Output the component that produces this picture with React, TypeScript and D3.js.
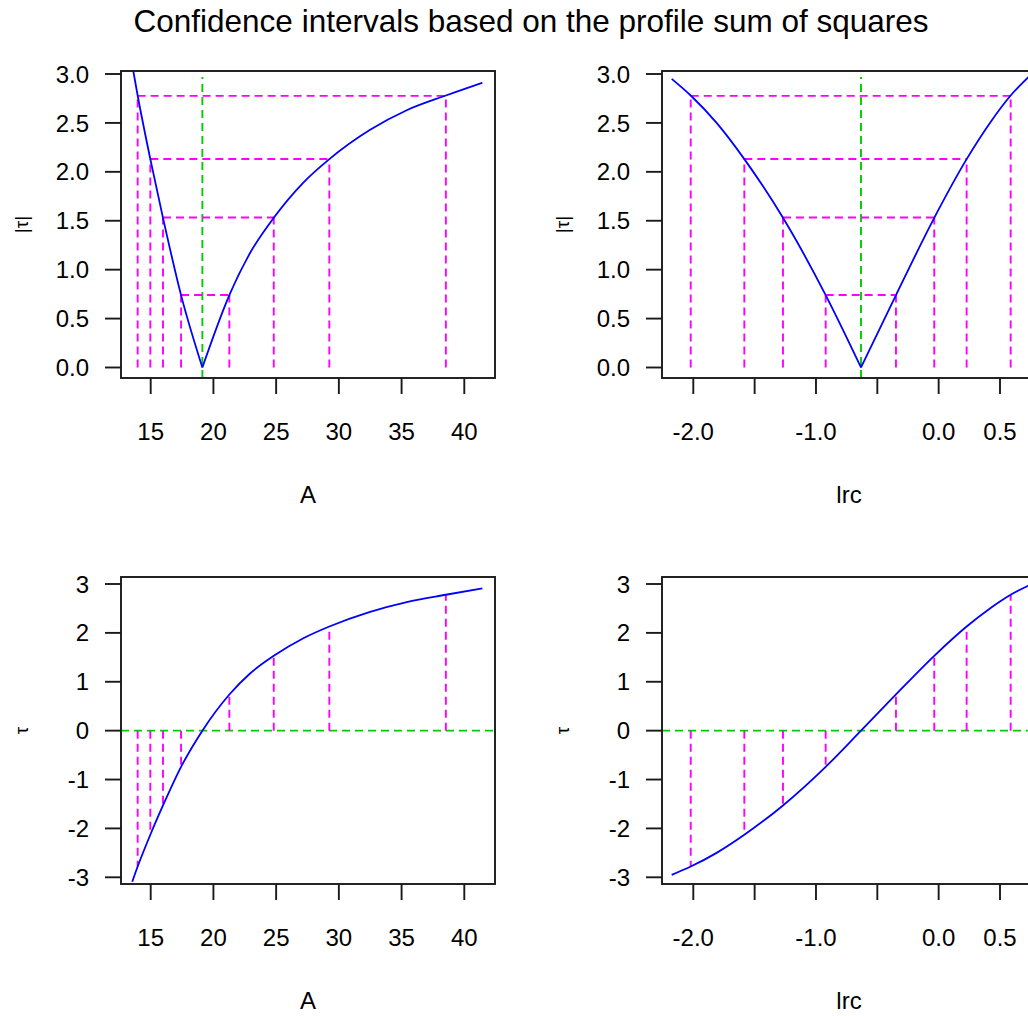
import React from 'react';
import * as d3 from 'd3';

// ---- data ----
const tauLevels = [0.7407, 1.5332, 2.1318, 2.7764];

const aValues = [13.53, 13.96, 14.97, 15.98, 17.42, 19.12, 21.27, 22.92, 24.81, 27.17, 29.24, 32.49, 35.41, 38.53, 41.44];
const aTau = [-3.09, -2.78, -2.13, -1.53, -0.74, 0, 0.74, 1.17, 1.53, 1.89, 2.13, 2.43, 2.63, 2.78, 2.91];
const aEstimate = 19.12;
const aLower = [17.42, 15.98, 14.97, 13.96];
const aUpper = [21.27, 24.81, 29.24, 38.53];

const lrcValues = [-2.176, -2.021, -1.81, -1.584, -1.269, -0.921, -0.633, -0.348, -0.036, 0.228, 0.418, 0.587, 0.725, 0.79];
const lrcTau = [-2.95, -2.78, -2.5, -2.13, -1.53, -0.74, 0, 0.74, 1.53, 2.13, 2.5, 2.78, 2.96, 3.04];
const lrcEstimate = -0.633;
const lrcLower = [-0.921, -1.269, -1.584, -2.021];
const lrcUpper = [-0.348, -0.036, 0.228, 0.587];

const aTicks = [15, 20, 25, 30, 35, 40];
const aTickLabels = ['15', '20', '25', '30', '35', '40'];
const lrcTicks = [-2.0, -1.5, -1.0, -0.5, 0.0, 0.5];
const lrcTickLabels = ['-2.0', '', '-1.0', '', '0.0', '0.5'];
const absTicks = [0, 0.5, 1, 1.5, 2, 2.5, 3];
const absTickLabels = ['0.0', '0.5', '1.0', '1.5', '2.0', '2.5', '3.0'];
const tauTicks = [-3, -2, -1, 0, 1, 2, 3];
const tauTickLabels = ['-3', '-2', '-1', '0', '1', '2', '3'];
const greenTop = 2.97;

const title = 'Confidence intervals based on the profile sum of squares';

// ---- layout ----
const W = 1028;
const H = 1016;
const FONT = "'Liberation Sans', Arial, Helvetica, sans-serif";
const BLUE = '#0000FF';
const MAGENTA = '#FF00FF';
const GREEN = '#00CD00';
const INK = '#1a1a1a';
const DASH = '8,5';
const REF_W = 1.9;

const colLeft = { x0: 121, x1: 495 };
const colRight = { x0: 662, x1: 1036 };
const rowTop = { y0: 71, y1: 378 };
const rowBottom = { y0: 577, y1: 884 };

const xA = d3.scaleLinear().domain([15, 40]).range([150.7, 464.3]);
const xLrc = d3.scaleLinear().domain([-2, 0.5]).range([693.3, 1000]);
const yAbs = d3.scaleLinear().domain([0, 3]).range([367.5, 74]);
const yTau = d3.scaleLinear().domain([-3, 3]).range([877.3, 584]);

type Panel = {
  id: string;
  x: d3.ScaleLinear<number, number>;
  y: d3.ScaleLinear<number, number>;
  col: { x0: number; x1: number };
  row: { y0: number; y1: number };
  xs: number[];
  taus: number[];
  est: number;
  lower: number[];
  upper: number[];
  abs: boolean;
  xTicks: number[];
  xLabels: string[];
  yTicks: number[];
  yLabels: string[];
  xTitle: string;
  yTitle: string;
};

const panels: Panel[] = [
  { id: 'p1', x: xA, y: yAbs, col: colLeft, row: rowTop, xs: aValues, taus: aTau, est: aEstimate, lower: aLower, upper: aUpper, abs: true, xTicks: aTicks, xLabels: aTickLabels, yTicks: absTicks, yLabels: absTickLabels, xTitle: 'A', yTitle: '|τ|' },
  { id: 'p2', x: xLrc, y: yAbs, col: colRight, row: rowTop, xs: lrcValues, taus: lrcTau, est: lrcEstimate, lower: lrcLower, upper: lrcUpper, abs: true, xTicks: lrcTicks, xLabels: lrcTickLabels, yTicks: absTicks, yLabels: absTickLabels, xTitle: 'lrc', yTitle: '|τ|' },
  { id: 'p3', x: xA, y: yTau, col: colLeft, row: rowBottom, xs: aValues, taus: aTau, est: aEstimate, lower: aLower, upper: aUpper, abs: false, xTicks: aTicks, xLabels: aTickLabels, yTicks: tauTicks, yLabels: tauTickLabels, xTitle: 'A', yTitle: 'τ' },
  { id: 'p4', x: xLrc, y: yTau, col: colRight, row: rowBottom, xs: lrcValues, taus: lrcTau, est: lrcEstimate, lower: lrcLower, upper: lrcUpper, abs: false, xTicks: lrcTicks, xLabels: lrcTickLabels, yTicks: tauTicks, yLabels: tauTickLabels, xTitle: 'lrc', yTitle: 'τ' },
];

function PanelView({ p }: { p: Panel }) {
  const { x, y, col, row } = p;
  const pts = p.xs.map((v, i) => [v, p.taus[i]] as [number, number]);
  const line = d3
    .line<[number, number]>()
    .x((d) => x(d[0]))
    .y((d) => y(d[1]))
    .curve(d3.curveMonotoneX);
  let paths: string[] = [];
  if (p.abs) {
    const left = pts.filter((d) => d[1] <= 0).map((d) => [d[0], -d[1]] as [number, number]);
    const right = pts.filter((d) => d[1] >= 0);
    paths = [line(left) || '', line(right) || ''];
  } else {
    paths = [line(pts) || ''];
  }
  const cx = (col.x0 + col.x1) / 2;
  const cy = (row.y0 + row.y1) / 2;
  return (
    <g>
      <defs>
        <clipPath id={`clip-${p.id}`}>
          <rect x={col.x0} y={row.y0} width={col.x1 - col.x0} height={row.y1 - row.y0} />
        </clipPath>
      </defs>
      <g clipPath={`url(#clip-${p.id})`}>
        {p.abs ? (
          <>
            <line x1={x(p.est)} x2={x(p.est)} y1={row.y1} y2={y(greenTop)} stroke={GREEN} strokeWidth={REF_W} strokeDasharray={DASH} />
            {tauLevels.map((lev, i) => (
              <g key={i}>
                <line x1={x(p.lower[i])} x2={x(p.upper[i])} y1={y(lev)} y2={y(lev)} stroke={MAGENTA} strokeWidth={REF_W} strokeDasharray={DASH} />
                <line x1={x(p.lower[i])} x2={x(p.lower[i])} y1={y(0)} y2={y(lev)} stroke={MAGENTA} strokeWidth={REF_W} strokeDasharray={DASH} />
                <line x1={x(p.upper[i])} x2={x(p.upper[i])} y1={y(0)} y2={y(lev)} stroke={MAGENTA} strokeWidth={REF_W} strokeDasharray={DASH} />
              </g>
            ))}
          </>
        ) : (
          <>
            <line x1={col.x0} x2={col.x1} y1={y(0)} y2={y(0)} stroke={GREEN} strokeWidth={REF_W} strokeDasharray={DASH} />
            {tauLevels.map((lev, i) => (
              <g key={i}>
                <line x1={x(p.lower[i])} x2={x(p.lower[i])} y1={y(0)} y2={y(-lev)} stroke={MAGENTA} strokeWidth={REF_W} strokeDasharray={DASH} />
                <line x1={x(p.upper[i])} x2={x(p.upper[i])} y1={y(0)} y2={y(lev)} stroke={MAGENTA} strokeWidth={REF_W} strokeDasharray={DASH} />
              </g>
            ))}
          </>
        )}
        {paths.map((d, i) => (
          <path key={i} d={d} fill="none" stroke={BLUE} strokeWidth={1.8} />
        ))}
      </g>
      <rect x={col.x0} y={row.y0} width={col.x1 - col.x0} height={row.y1 - row.y0} fill="none" stroke={INK} strokeWidth={1.9} />
      {p.xTicks.map((t, i) => (
        <g key={`xt${i}`}>
          <line x1={x(t)} x2={x(t)} y1={row.y1} y2={row.y1 + 16} stroke={INK} strokeWidth={1.9} />
          {p.xLabels[i] ? (
            <text x={x(t)} y={row.y1 + 62} textAnchor="middle" fontSize={24} fontFamily={FONT} fill="#000">
              {p.xLabels[i]}
            </text>
          ) : null}
        </g>
      ))}
      {p.yTicks.map((t, i) => (
        <g key={`yt${i}`}>
          <line x1={col.x0} x2={col.x0 - 16} y1={y(t)} y2={y(t)} stroke={INK} strokeWidth={1.9} />
          <text x={col.x0 - 32} y={y(t) + 8.6} textAnchor="end" fontSize={24} fontFamily={FONT} fill="#000">
            {p.yLabels[i]}
          </text>
        </g>
      ))}
      <text x={cx} y={row.y1 + 125} textAnchor="middle" fontSize={24} fontFamily={FONT} fill="#000">
        {p.xTitle}
      </text>
      <text
        transform={`translate(${col.x0 - 93},${cy}) rotate(-90)`}
        textAnchor="middle"
        fontSize={19}
        fontFamily={FONT}
        fill="#000"
      >
        {p.yTitle}
      </text>
    </g>
  );
}

export default function App() {
  return (
    <svg
      width={W}
      height={H}
      viewBox={`0 0 ${W} ${H}`}
      style={{ position: 'absolute', left: 0, top: 0, background: '#fff', overflow: 'hidden' }}
    >
      <rect x={0} y={0} width={W} height={H} fill="#fff" />
      <text x={531} y={32} textAnchor="middle" fontSize={31.5} fontFamily={FONT} fill="#000">
        {title}
      </text>
      {panels.map((p) => (
        <PanelView key={p.id} p={p} />
      ))}
    </svg>
  );
}
